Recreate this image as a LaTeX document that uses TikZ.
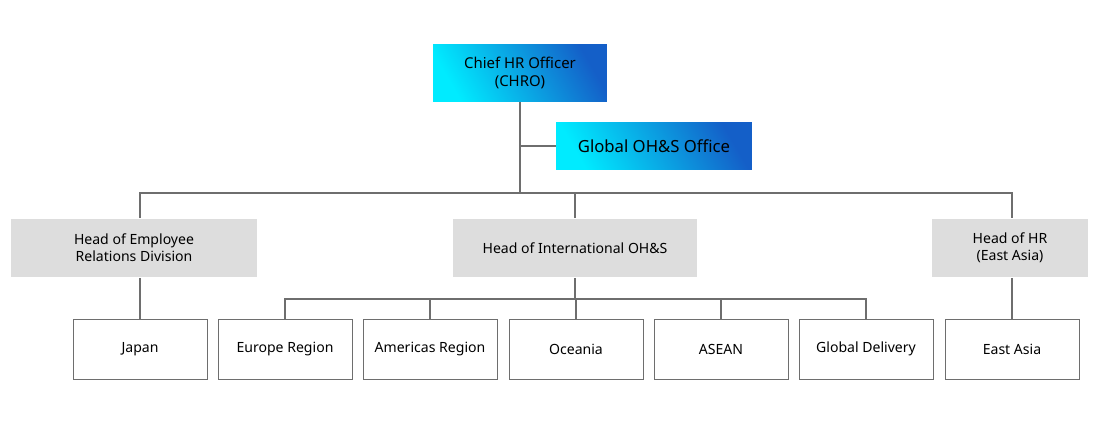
\documentclass[tikz,border=0pt]{standalone}
\usepackage{fontspec}
\setmainfont{Noto Sans}
\begin{document}
\definecolor{hrcyan}{RGB}{0,235,255}
\definecolor{hrblue}{RGB}{20,95,200}
\definecolor{hrgray}{RGB}{221,221,221}
\definecolor{hrline}{RGB}{110,110,110}
\begin{tikzpicture}[x=0.02cm,y=-0.02cm,%
% common options for the top boxes:
topbox/.style = {left color=hrcyan, right color=hrblue, shading angle=120,
            align=center, font=\fontsize{8.5}{10}\selectfont\bfseries, inner sep=0},
% common options for the heads:
head/.style = {fill=hrgray, align=center, minimum height=1.18cm,
            font=\fontsize{8}{9.5}\selectfont, inner sep=0},
% common options for the units:
unit/.style = {draw=hrline, fill=white, minimum width=2.68cm, minimum height=1.2cm,
            font=\fontsize{8}{9.5}\selectfont, inner sep=0},
link/.style = {draw=hrline, line width=0.9pt}]
\useasboundingbox (0,0) rectangle (1100,420);
\node[topbox,minimum width=3.48cm,minimum height=1.16cm] (chro) at (520,73) {Chief HR Officer\\(CHRO)};
\node[topbox,minimum width=3.92cm,minimum height=0.96cm,font=\fontsize{9.5}{11}\selectfont\bfseries] (ohs) at (654,146) {Global OH\&S Office};
\node[head,minimum width=4.92cm] (emp) at (134,248) {Head of Employee\\ Relations Division};
\node[head,minimum width=4.9cm] (intl) at (575,248) {Head of International OH\&S};
\node[head,minimum width=3.12cm] (hrea) at (1010,248) {Head of HR\\(East Asia)};
\node[unit] (jp) at (140,349) {Japan};
\node[unit] (eu) at (285,349) {Europe Region};
\node[unit] (am) at (430,349) {Americas Region};
\node[unit] (oc) at (576,349) {Oceania};
\node[unit] (as) at (721,349) {ASEAN};
\node[unit] (gd) at (866,349) {Global Delivery};
\node[unit] (ea) at (1012,349) {East Asia};
\coordinate (top) at (520,193);
\coordinate (mid) at (575,299);
\draw[link] (chro.south) -- (top);
\draw[link] (ohs.west) -- (520,146);
\draw[link] (emp.north -| jp) -- (140,193) -- (1012,193) -- (hrea.north -| ea);
\draw[link] (intl.north) -- (575,193);
\draw[link] (emp.south -| jp) -- (jp.north);
\draw[link] (hrea.south -| ea) -- (ea.north);
\draw[link] (intl.south) -- (mid);
\draw[link] (eu.north) -- (eu.north |- mid) -- (gd.north |- mid) -- (gd.north);
\foreach \u in {am,oc,as}
  \draw[link] (\u.north) -- (\u.north |- mid);
\end{tikzpicture}
\end{document}
